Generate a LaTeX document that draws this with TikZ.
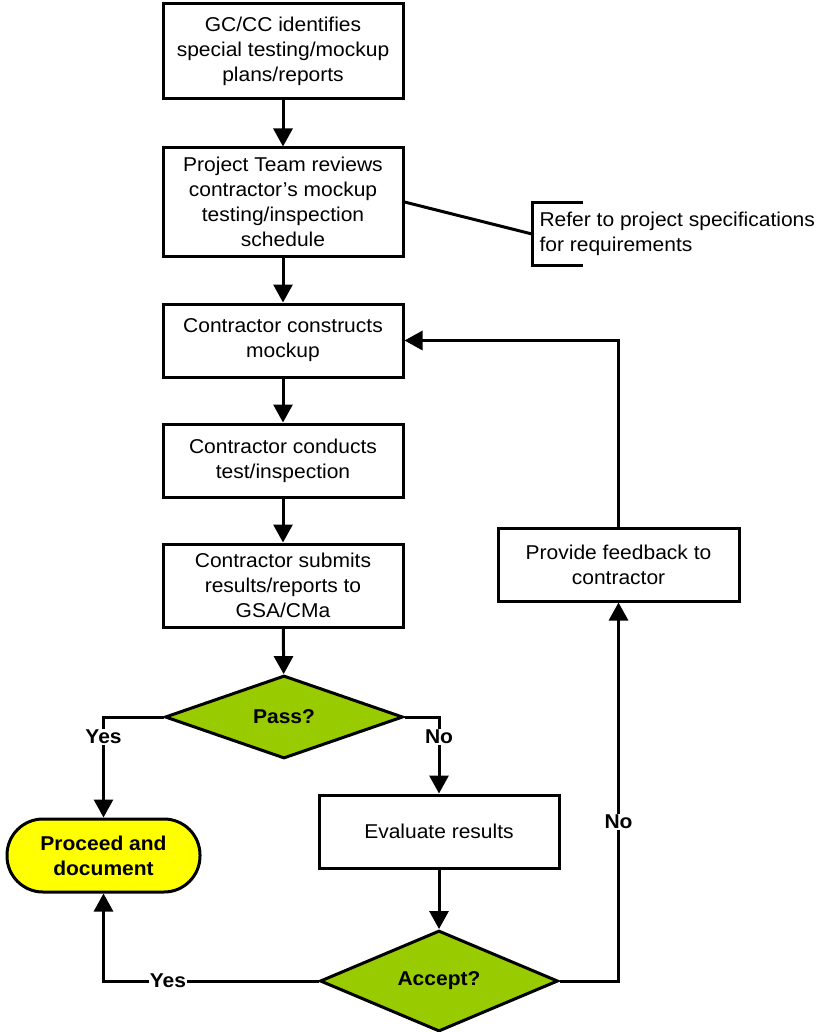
\documentclass[tikz,border=0pt]{standalone}
\usepackage{fontspec}
\setmainfont[FakeStretch=1.05]{Liberation Sans}
\usetikzlibrary{arrows.meta, positioning}
\usetikzlibrary{shapes,arrows}

\definecolor{passgreen}{HTML}{99CC00}
\definecolor{endyellow}{HTML}{FFFF00}

\begin{document}
\begin{tikzpicture}[x=1pt, y=-1pt, line width=3pt,
  every node/.style={font=\fontsize{20}{25}\selectfont, align=center},
  box/.style={draw, rectangle, minimum width=240pt, inner sep=2pt},
  decision/.style={draw, diamond, fill=passgreen, inner sep=0pt, minimum width=238pt, font=\fontsize{20}{25}\selectfont\bfseries},
  stop/.style={draw, rectangle, rounded corners=36pt, fill=endyellow, minimum width=193pt, minimum height=73pt, font=\fontsize{20}{25}\selectfont\bfseries},
  arr/.style={-{Triangle[length=18pt, width=19pt]}},
  lbl/.style={fill=white, inner sep=1pt, font=\fontsize{20}{25}\selectfont\bfseries}]
  \useasboundingbox (0,0) rectangle (817,1032);

  \node[box, minimum height=95pt] (gc) at (283,51.5) {GC/CC identifies\\special testing/mockup\\plans/reports};
  \node[box, minimum height=108pt] (pt) at (283,202) {Project Team reviews\\contractor's mockup\\testing/inspection\\schedule};
  \node[box, minimum height=73pt] (build) at (283,340.5) {Contractor constructs\\mockup};
  \node[box, minimum height=73pt] (test) at (283,460.5) {Contractor conducts\\test/inspection};
  \node[box, minimum height=83pt] (submit) at (283,585.5) {Contractor submits\\results/reports to\\GSA/CMa};
  \node[decision, minimum height=83pt] (pass) at (284,717) {Pass?};
  \node[box, minimum height=73pt] (eval) at (439,831.5) {Evaluate results};
  \node[decision, minimum height=95pt] (accept) at (439,981) {Accept?};
  \node[stop] (done) at (103.5,855.5) {Proceed and\\document};
  \node[box, minimum width=241pt, minimum height=73pt] (fb) at (618.5,564.5) {Provide feedback to\\contractor};

  % note on the schedule review
  \coordinate (note) at (532,234);
  \draw (583,203) -- (532,203) -- (532,265) -- (583,265);
  \node[anchor=west, align=left, inner sep=0pt] (spec) at (538,234) {Refer to project specifications\\for requirements};
  \draw (pt.east) -- (note);

  \draw[arr] (gc) -- (pt);
  \draw[arr] (pt) -- (build);
  \draw[arr] (build) -- (test);
  \draw[arr] (test) -- (submit);
  \draw[arr] (submit) -- (pass);
  \draw[arr] (pass.west) -| node[lbl, pos=0.6] {Yes} (done.north);
  \draw[arr] (pass.east) -| node[lbl, pos=0.63] {No} (eval.north);
  \draw[arr] (eval) -- (accept);
  \draw[arr] (accept.west) -| node[lbl, pos=0.35] {Yes} (done.south);
  \draw[arr] (accept.east) -| node[lbl, pos=0.71] {No} (fb.south);
  \draw[arr] (fb.north) |- (build.east);
\end{tikzpicture}
\end{document}
